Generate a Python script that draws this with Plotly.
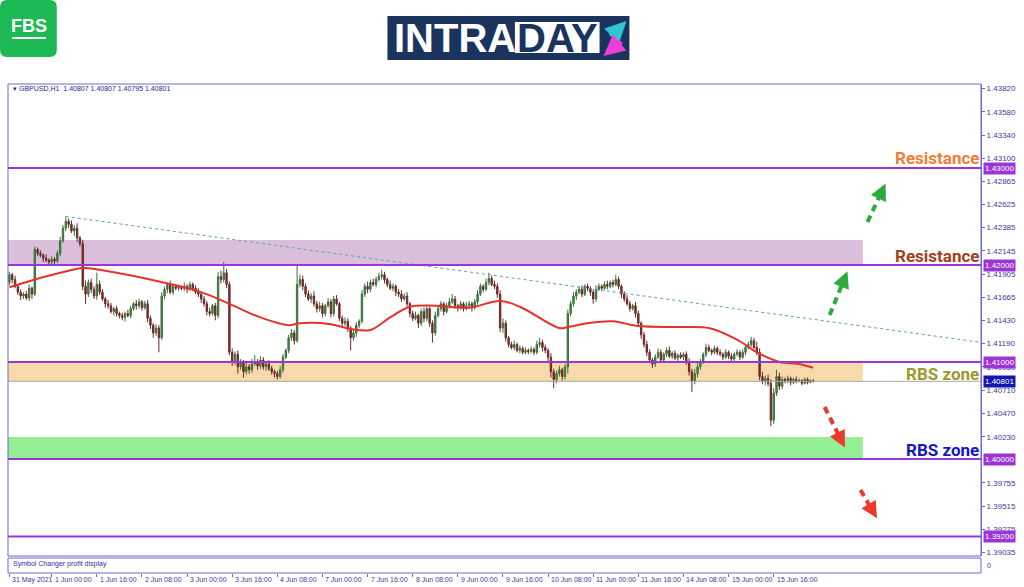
import plotly.graph_objects as go

# GBPUSD H1 bars (price, 5 digits)
FIRST_OPEN = 1.4182
CLOSES = [
    1.4190, 1.4185, 1.4178, 1.4172, 1.4168, 1.4170, 1.4166, 1.4176, 1.4170, 1.4216,
    1.4212, 1.4210, 1.4207, 1.4205, 1.4203, 1.4206, 1.4204, 1.4212, 1.4225, 1.4238,
    1.4245, 1.4242, 1.4235, 1.4238, 1.4228, 1.4222, 1.4178, 1.4170, 1.4182, 1.4175,
    1.4168, 1.4180, 1.4172, 1.4165, 1.4160, 1.4158, 1.4152, 1.4155, 1.4150, 1.4148,
    1.4146, 1.4150, 1.4148, 1.4155, 1.4160, 1.4158, 1.4162, 1.4156, 1.4160, 1.4145,
    1.4138, 1.4130, 1.4135, 1.4125, 1.4168, 1.4175, 1.4180, 1.4172, 1.4178, 1.4176,
    1.4177, 1.4176, 1.4178, 1.4175, 1.4180, 1.4176, 1.4172, 1.4170, 1.4165, 1.4160,
    1.4152, 1.4150, 1.4158, 1.4148, 1.4188, 1.4185, 1.4192, 1.4180, 1.4110, 1.4100,
    1.4108, 1.4095, 1.4100, 1.4090, 1.4095, 1.4092, 1.4098, 1.4100, 1.4096, 1.4102,
    1.4095, 1.4098, 1.4093, 1.4090, 1.4088, 1.4085, 1.4092, 1.4105, 1.4112, 1.4125,
    1.4130, 1.4122, 1.4180, 1.4185, 1.4178, 1.4170, 1.4165, 1.4168, 1.4160, 1.4155,
    1.4158, 1.4150, 1.4158, 1.4162, 1.4150, 1.4165, 1.4160, 1.4145, 1.4140, 1.4142,
    1.4135, 1.4125, 1.4130, 1.4138, 1.4142, 1.4170, 1.4178, 1.4175, 1.4182, 1.4180,
    1.4185, 1.4188, 1.4190, 1.4185, 1.4180, 1.4176, 1.4178, 1.4172, 1.4170, 1.4165,
    1.4168, 1.4160, 1.4150, 1.4145, 1.4148, 1.4140, 1.4152, 1.4145, 1.4155, 1.4140,
    1.4130, 1.4148, 1.4155, 1.4160, 1.4152, 1.4158, 1.4162, 1.4165, 1.4158, 1.4156,
    1.4160, 1.4155, 1.4158, 1.4160, 1.4156, 1.4162, 1.4170, 1.4178, 1.4175, 1.4182,
    1.4186, 1.4180, 1.4178, 1.4170, 1.4135, 1.4140, 1.4125, 1.4118, 1.4115, 1.4118,
    1.4112, 1.4114, 1.4110, 1.4112, 1.4111, 1.4113, 1.4110, 1.4118, 1.4120, 1.4115,
    1.4112, 1.4105, 1.4090, 1.4082, 1.4088, 1.4092, 1.4085, 1.4095, 1.4150, 1.4160,
    1.4168, 1.4172, 1.4175, 1.4170, 1.4178, 1.4176, 1.4172, 1.4165, 1.4175, 1.4178,
    1.4176, 1.4180, 1.4178, 1.4182, 1.4180, 1.4185, 1.4178, 1.4170, 1.4165, 1.4160,
    1.4155, 1.4158, 1.4150, 1.4140, 1.4128, 1.4118, 1.4110, 1.4102, 1.4098, 1.4105,
    1.4110, 1.4102, 1.4108, 1.4112, 1.4106, 1.4109, 1.4104, 1.4107, 1.4105, 1.4108,
    1.4100, 1.4090, 1.4080, 1.4088, 1.4095, 1.4100, 1.4108, 1.4115, 1.4112, 1.4110,
    1.4114, 1.4110, 1.4108, 1.4105, 1.4110, 1.4106, 1.4103, 1.4108, 1.4110, 1.4105,
    1.4110, 1.4115, 1.4118, 1.4122, 1.4115, 1.4110, 1.4085, 1.4080, 1.4083, 1.4078,
    1.4040, 1.4068, 1.4085, 1.4075, 1.4082, 1.4080, 1.4083, 1.4079, 1.4082, 1.4080,
    1.4081, 1.4078, 1.4082, 1.4079, 1.4081, 1.40801,
]
# wick lengths above / below the body, in pips
UPPER_WICK = [
    3, 2, 4, 2, 3, 2, 3, 4, 2, 3,   2, 3, 2, 4, 2, 3, 2, 3, 4, 3,
    5, 3, 4, 3, 5, 2, 4, 6, 3, 4,   3, 12, 4, 3, 2, 4, 3, 2, 3, 2,
    3, 2, 4, 3, 2, 4, 3, 2, 3, 4,   3, 2, 4, 3, 4, 3, 2, 4, 3, 2,
    3, 2, 4, 2, 3, 2, 3, 4, 2, 3,   3, 4, 2, 3, 5, 6, 11, 4, 3, 4,
    3, 4, 3, 2, 4, 3, 5, 7, 3, 4,   3, 2, 4, 3, 2, 3, 4, 3, 2, 3,
    4, 3, 20, 5, 4, 3, 4, 3, 5, 3,  4, 3, 2, 4, 3, 3, 4, 2, 3, 4,
    3, 2, 4, 3, 2, 4, 3, 5, 3, 4,   3, 4, 5, 3, 2, 4, 3, 2, 3, 4,
    3, 4, 2, 3, 4, 2, 3, 4, 3, 2,   3, 4, 2, 3, 2, 3, 4, 5, 3, 2,
    3, 2, 4, 3, 2, 3, 4, 3, 2, 4,   6, 3, 4, 3, 4, 5, 3, 2, 3, 4,
    2, 3, 2, 3, 2, 3, 2, 4, 5, 3,   3, 2, 4, 3, 3, 4, 2, 3, 4, 3,
    4, 3, 3, 4, 2, 3, 2, 3, 4, 3,   2, 3, 4, 2, 3, 5, 3, 2, 3, 4,
    3, 2, 4, 3, 2, 3, 4, 3, 2, 3,   4, 3, 2, 3, 4, 2, 3, 2, 3, 2,
    3, 4, 3, 5, 4, 3, 2, 4, 3, 2,   3, 2, 3, 2, 3, 2, 3, 2, 3, 2,
    3, 4, 3, 4, 3, 6, 4, 5, 3, 4,   4, 5, 7, 4, 3, 2, 3, 2, 2, 3,
    2, 1, 2, 2, 1, 1,
]
LOWER_WICK = [
    3, 4, 2, 3, 4, 3, 2, 3, 5, 2,   3, 2, 4, 2, 3, 2, 4, 2, 3, 2,
    3, 4, 2, 5, 4, 3, 4, 10, 3, 4,  3, 4, 3, 2, 4, 3, 2, 4, 3, 3,
    3, 4, 2, 3, 2, 4, 3, 3, 2, 4,   4, 5, 3, 15, 2, 3, 4, 2, 3, 2,
    3, 2, 3, 4, 2, 3, 2, 3, 4, 3,   4, 3, 2, 5, 3, 4, 3, 4, 3, 4,
    3, 7, 3, 6, 3, 4, 3, 2, 4, 3,   3, 4, 2, 3, 4, 3, 2, 3, 2, 3,
    3, 4, 2, 3, 4, 3, 2, 4, 3, 4,   3, 4, 3, 2, 4, 3, 2, 3, 4, 3,
    4, 13, 3, 4, 3, 2, 3, 4, 3, 2,  3, 2, 3, 4, 3, 2, 3, 4, 3, 3,
    2, 3, 4, 3, 2, 5, 3, 4, 3, 4,   10, 3, 2, 3, 4, 2, 3, 2, 3, 4,
    2, 3, 2, 3, 4, 2, 3, 2, 3, 2,   3, 2, 3, 4, 4, 5, 4, 3, 2, 3,
    2, 3, 2, 2, 3, 2, 3, 2, 3, 4,   3, 4, 6, 9, 4, 3, 4, 3, 7, 3,
    3, 4, 2, 3, 2, 3, 4, 5, 3, 2,   3, 2, 3, 2, 3, 2, 3, 4, 3, 2,
    3, 2, 4, 3, 4, 3, 4, 3, 4, 3,   2, 3, 2, 3, 2, 3, 2, 3, 2, 3,
    3, 4, 11, 3, 4, 3, 2, 3, 2, 3,  2, 3, 2, 3, 2, 3, 2, 3, 2, 3,
    2, 3, 2, 3, 2, 3, 4, 3, 4, 3,   6, 4, 3, 4, 3, 2, 2, 3, 2, 2,
    1, 2, 1, 2, 1, 1,
]

# moving average (red line), read at a few bars
MA_BAR = [0, 9, 18, 26, 32, 56, 68, 78, 89, 99, 103, 114, 121, 128, 135, 142,
          151, 163, 174, 181, 195, 198, 205, 214, 223, 237, 248, 258, 265, 273, 280, 285]
MA_VAL = [1.4177, 1.4185, 1.4192, 1.4197, 1.4195, 1.4181, 1.4172, 1.4160, 1.4146,
          1.4138, 1.4140, 1.4139, 1.4134, 1.4133, 1.4146, 1.4157, 1.4158, 1.4156,
          1.4163, 1.4157, 1.4135, 1.4136, 1.4140, 1.4142, 1.4137, 1.4136, 1.4135,
          1.4123, 1.4110, 1.4100, 1.4098, 1.4094]

# dotted trend line
TREND_BAR = [20, 345]
TREND_VAL = [1.4250, 1.4120]

LEVELS = [1.43, 1.42, 1.41, 1.40, 1.392]
LAST_PRICE = 1.40801
ZONE_LOW = [1.42, 1.40801, 1.40]
ZONE_HIGH = [1.42258, 1.41, 1.40227]
ZONE_END_BAR = 302.6

Y_TICKS = [1.43820, 1.43580, 1.43340, 1.43100, 1.42865, 1.42625, 1.42385, 1.42145,
           1.41905, 1.41665, 1.41430, 1.41190, 1.40950, 1.40710, 1.40470, 1.40230,
           1.39755, 1.39515, 1.39275, 1.39035]

X_TICK_BARS = [0, 15, 31, 47, 63, 79, 95, 111, 127, 143, 159, 175, 191, 207, 223, 239, 255, 271]
X_TICK_TEXT = ["31 May 2021", "1 Jun 00:00", "1 Jun 16:00", "2 Jun 08:00", "3 Jun 00:00",
               "3 Jun 16:00", "4 Jun 08:00", "7 Jun 00:00", "7 Jun 16:00", "8 Jun 08:00",
               "9 Jun 00:00", "9 Jun 16:00", "10 Jun 08:00", "11 Jun 00:00", "11 Jun 16:00",
               "14 Jun 08:00", "15 Jun 00:00", "15 Jun 16:00"]

LABELS = ["Resistance", "Resistance", "RBS zone", "RBS zone"]
LABEL_PRICE = [1.4310, 1.42093, 1.40876, 1.40093]
LABEL_COLORS = ["#f07d36", "#a3401c", "#9a9a2c", "#1414c8"]

AXIS_BLUE = "#6a6ad2"
TICK_TXT = "#3a3aa0"
LEVEL_PURPLE = "#9b35d6"
FONT = "Liberation Sans"


def no_line():
    return dict(width=0, color="rgba(0,0,0,0)")


# pixel helpers for the decorations outside the plot area (plot area 8..985 x 84..573)
def px(x):
    return (x - 8) / 977


def py(y):
    return (573 - y) / 489


bars = list(range(len(CLOSES)))
opens = [FIRST_OPEN] + CLOSES[:-1]
highs = [max(o, c) + u / 1e4 for o, c, u in zip(opens, CLOSES, UPPER_WICK)]
lows = [min(o, c) - d / 1e4 for o, c, d in zip(opens, CLOSES, LOWER_WICK)]

fig = go.Figure()

fig.add_trace(go.Scatter(
    x=TREND_BAR, y=TREND_VAL, mode="lines",
    line=dict(color="#5b9fb5", width=1, dash="dot"), hoverinfo="skip",
))
fig.add_trace(go.Candlestick(
    x=bars, open=opens, high=highs, low=lows, close=CLOSES,
    increasing_fillcolor="#2f9e44", increasing_line_color="#3d6e3d",
    decreasing_fillcolor="#9c1f1f", decreasing_line_color="#6a2a2a",
    line_width=1, whiskerwidth=0, name="GBPUSD,H1",
))
fig.add_trace(go.Scatter(
    x=MA_BAR, y=MA_VAL, mode="lines", line=dict(color="#e5322c", width=2, shape="spline"),
    hoverinfo="skip",
))

shapes = []
zone_colors = ["#d9bfd9", "#f7d9aa", "#94ef94"]
for lo, hi, col in zip(ZONE_LOW, ZONE_HIGH, zone_colors):
    shapes.append(dict(type="rect", xref="x", yref="y", x0=-0.5, x1=ZONE_END_BAR,
                       y0=lo, y1=hi, fillcolor=col, line=no_line(), layer="below"))
shapes.append(dict(type="line", xref="x", yref="y", x0=-0.5, x1=344.5, y0=LAST_PRICE,
                   y1=LAST_PRICE, line=dict(color="#a8a8a8", width=1), layer="above"))
for lv in LEVELS:
    shapes.append(dict(type="line", xref="x", yref="y", x0=-0.5, x1=344.5, y0=lv, y1=lv,
                       line=dict(color=LEVEL_PURPLE, width=2), layer="above"))

# frame of main pane and the indicator strip
shapes.append(dict(type="rect", xref="paper", yref="paper", x0=0, x1=1, y0=py(556), y1=1,
                   line=dict(color=AXIS_BLUE, width=1)))
shapes.append(dict(type="rect", xref="paper", yref="paper", x0=0, x1=1, y0=0, y1=py(558),
                   line=dict(color=AXIS_BLUE, width=1)))

# dashed arrows
arrows = [
    ((833, 315), (849, 276), "#2eaa3c"),
    ((871, 222), (887, 188), "#2eaa3c"),
    ((828, 407), (846, 443), "#e8392b"),
    ((864, 490), (878, 514), "#e8392b"),
]
annotations = []
for (x0, y0), (x1, y1), col in arrows:
    shapes.append(dict(type="line", xref="paper", yref="paper", x0=px(x0), y0=py(y0),
                       x1=px(x1), y1=py(y1), line=dict(color=col, width=4, dash="7px,5px")))
    dx, dy = x1 - x0, y1 - y0
    n = (dx * dx + dy * dy) ** 0.5
    annotations.append(dict(xref="paper", yref="paper", x=px(x1 + dx / n * 5), y=py(y1 + dy / n * 5),
                            ax=-dx / n * 10, ay=-dy / n * 10, text="", showarrow=True,
                            arrowhead=2, arrowsize=1.1, arrowwidth=3, arrowcolor=col))

# FBS logo
r = 7
fbs = (f"M {px(r)},{py(0)} L {px(57 - r)},{py(0)} Q {px(57)},{py(0)} {px(57)},{py(r)} "
       f"L {px(57)},{py(57 - r)} Q {px(57)},{py(57)} {px(57 - r)},{py(57)} "
       f"L {px(r)},{py(57)} Q {px(0)},{py(57)} {px(0)},{py(57 - r)} "
       f"L {px(0)},{py(r)} Q {px(0)},{py(0)} {px(r)},{py(0)} Z")
shapes.append(dict(type="path", xref="paper", yref="paper", path=fbs, fillcolor="#1db954",
                   line=no_line()))
shapes.append(dict(type="line", xref="paper", yref="paper", x0=px(12), x1=px(46), y0=py(38),
                   y1=py(38), line=dict(color="white", width=2)))
annotations.append(dict(xref="paper", yref="paper", x=px(29), y=py(26), text="<b>FBS</b>",
                        xanchor="center", yanchor="middle", showarrow=False,
                        font=dict(family=FONT, size=18, color="white")))

# INTRADAY logo
shapes.append(dict(type="rect", xref="paper", yref="paper", x0=px(389), x1=px(632), y0=py(60),
                   y1=py(16), fillcolor="#1b345e", line=no_line()))
shapes.append(dict(type="rect", xref="paper", yref="paper", x0=px(517), x1=px(602), y0=py(53),
                   y1=py(22), fillcolor="white", line=no_line()))
annotations.append(dict(xref="paper", yref="paper", x=px(394), y=py(38), xanchor="left",
                        yanchor="middle", text="<b>INTRA</b>", showarrow=False,
                        font=dict(family=FONT, size=40, color="white")))
annotations.append(dict(xref="paper", yref="paper", x=px(560), y=py(38), xanchor="center",
                        yanchor="middle", text="<b>DAY</b>", showarrow=False,
                        font=dict(family=FONT, size=40, color="#1b345e")))
annotations.append(dict(xref="paper", yref="paper", x=px(629), y=py(21), ax=-17, ay=17, text="",
                        showarrow=True, arrowhead=2, arrowsize=0.7, arrowwidth=6,
                        arrowcolor="#30c6d2"))
annotations.append(dict(xref="paper", yref="paper", x=px(606), y=py(56), ax=19, ay=-16, text="",
                        showarrow=True, arrowhead=2, arrowsize=0.7, arrowwidth=6,
                        arrowcolor="#ea3fd8"))

# header + indicator strip caption
annotations.append(dict(xref="paper", yref="paper", x=px(11), y=py(89), xanchor="left",
                        yanchor="middle", text="▾ GBPUSD,H1  1.40807 1.40807 1.40795 1.40801",
                        showarrow=False, font=dict(family=FONT, size=7, color="#26268a")))
annotations.append(dict(xref="paper", yref="paper", x=px(11), y=py(564), xanchor="left",
                        yanchor="middle", text="Symbol Changer profit display", showarrow=False,
                        font=dict(family=FONT, size=7, color="#30309a")))
annotations.append(dict(xref="paper", yref="paper", x=1, xshift=4, y=py(565), xanchor="left",
                        yanchor="middle", text="0", showarrow=False,
                        font=dict(family=FONT, size=7, color=TICK_TXT)))

# zone labels
for txt, yv, col in zip(LABELS, LABEL_PRICE, LABEL_COLORS):
    annotations.append(dict(xref="paper", yref="y", x=1, xshift=0, y=yv, xanchor="right",
                            yanchor="middle", text=f"<b>{txt}</b>", showarrow=False,
                            font=dict(family="Roboto", size=17, color=col)))

# right-axis price boxes
for lv in LEVELS:
    annotations.append(dict(xref="paper", yref="y", x=1, xshift=2, y=lv, xanchor="left",
                            yanchor="middle", text=f"{lv:.5f}", showarrow=False,
                            bgcolor=LEVEL_PURPLE, borderpad=1,
                            font=dict(family=FONT, size=8, color="white")))
annotations.append(dict(xref="paper", yref="y", x=1, xshift=2, y=LAST_PRICE, xanchor="left",
                        yanchor="middle", text=f"{LAST_PRICE:.5f}", showarrow=False,
                        bgcolor="#1515b0", borderpad=1,
                        font=dict(family=FONT, size=8, color="white")))

# time labels, left-aligned to their tick like MT4
for b, t in zip(X_TICK_BARS, X_TICK_TEXT):
    annotations.append(dict(xref="x", yref="paper", x=b, y=0, yshift=-1, xshift=1,
                            xanchor="left", yanchor="top", text=t, showarrow=False,
                            font=dict(family=FONT, size=7, color=TICK_TXT)))

fig.update_layout(
    width=1024, height=587,
    paper_bgcolor="white", plot_bgcolor="white",
    margin=dict(l=8, r=39, t=84, b=14),
    showlegend=False,
    hovermode=False,
    shapes=shapes,
    annotations=annotations,
    xaxis=dict(
        range=[-0.5, 344.5], anchor="free", position=0,
        showgrid=False, zeroline=False, showline=False,
        tickvals=X_TICK_BARS, showticklabels=False,
        ticks="outside", ticklen=3, tickcolor=AXIS_BLUE,
        rangeslider_visible=False,
    ),
    yaxis=dict(
        domain=[py(556), 1], range=[1.3900, 1.43866], side="right",
        showgrid=False, zeroline=False, showline=True, linecolor=AXIS_BLUE,
        tickvals=Y_TICKS, ticktext=[f"{v:.5f}" for v in Y_TICKS],
        ticks="outside", ticklen=3, tickcolor=AXIS_BLUE,
        tickfont=dict(family=FONT, size=8, color=TICK_TXT),
    ),
)

fig.write_html("out.html", config={"displayModeBar": False},
               post_script="document.body.style.margin='0';")
